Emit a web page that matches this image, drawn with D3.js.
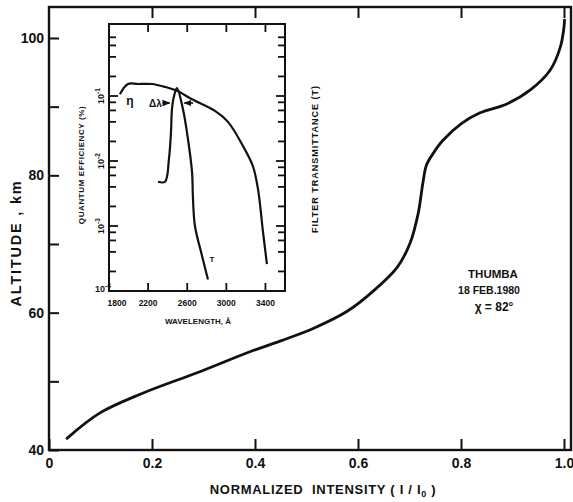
<!DOCTYPE html>
<html>
<head>
<meta charset="utf-8">
<script src="https://cdn.jsdelivr.net/npm/d3@7"></script>
<style>
  body { margin: 0; background: #fff; }
  text { font-family: "Liberation Sans", Arial, sans-serif; font-weight: bold; fill: #111; }
</style>
</head>
<body>
<svg id="chart" width="573" height="502"></svg>
<script>
// main profile: normalized intensity vs altitude (km)
var intensity = [0.035, 0.099, 0.183, 0.293, 0.390, 0.450, 0.513, 0.579, 0.629, 0.676, 0.701, 0.717, 0.726, 0.733, 0.746, 0.765, 0.800, 0.837, 0.889, 0.934, 0.973, 0.993, 1.000, 1.001];
var altitude  = [41.7, 45.4, 48.3, 51.4, 54.3, 55.9, 57.7, 60.2, 63.1, 66.6, 70.1, 74.5, 78.9, 81.5, 83.2, 85.1, 87.5, 89.1, 90.4, 92.4, 95.3, 98.7, 101.6, 102.6];
var xTicks = [0, 0.2, 0.4, 0.6, 0.8, 1.0];
var xTickLabels = ["0", "0.2", "0.4", "0.6", "0.8", "1.0"];
var yTicks = [40, 50, 60, 70, 80, 90, 100];
var yTickLabels = ["40", "", "60", "", "80", "", "100"];

// inset: quantum efficiency (eta) and filter transmittance (T) vs wavelength
var etaWave  = [1912, 1994, 2097, 2240, 2373, 2495, 2649, 2884, 3017, 3190, 3272, 3324, 3375, 3415];
var etaValue = [0.107, 0.153, 0.153, 0.153, 0.138, 0.120, 0.089, 0.059, 0.040, 0.015, 0.0083, 0.0037, 0.00081, 0.00026];
var tWave  = [2301, 2373, 2413, 2434, 2444, 2465, 2495, 2556, 2607, 2649, 2659, 2679, 2751, 2812];
var tValue = [0.0048, 0.0048, 0.0107, 0.028, 0.063, 0.10, 0.132, 0.063, 0.022, 0.0068, 0.0026, 0.0010, 0.00035, 0.00015];
var waveTicks = [1800, 2200, 2600, 3000, 3400];
var decades = [1e-4, 1e-3, 1e-2, 1e-1, 1];
var decadeExp = ["-4", "-3", "-2", "-1"];
var minorMult = [2, 4, 6, 8];

var svg = d3.select("#chart");

// ---- main plot
var x = d3.scaleLinear().domain([0, 1]).range([49, 564]);
var y = d3.scaleLinear().domain([40, 100]).range([450, 38]);
var L = 49, R = 571, T = 7, B = 450;

var g = svg.append("g");
g.append("rect").attr("x", L).attr("y", T).attr("width", R - L).attr("height", B - T)
  .attr("fill", "none").attr("stroke", "#111").attr("stroke-width", 2.4);

var axB = g.append("g").attr("transform", "translate(0," + B + ")")
  .call(d3.axisBottom(x).tickValues(xTicks).tickSize(-11).tickPadding(8)
    .tickFormat(function(d, i) { return xTickLabels[i]; }));
var axT = g.append("g").attr("transform", "translate(0," + T + ")")
  .call(d3.axisTop(x).tickValues(xTicks.slice(1)).tickSize(-11).tickFormat(""));
var axL = g.append("g").attr("transform", "translate(" + L + ",0)")
  .call(d3.axisLeft(y).tickValues(yTicks).tickSize(-10).tickPadding(5)
    .tickFormat(function(d, i) { return yTickLabels[i]; }));
[axB, axT, axL].forEach(function(a) {
  a.select(".domain").remove();
  a.selectAll("line").attr("stroke", "#111").attr("stroke-width", 2);
  a.attr("font-size", 14).attr("font-family", null);
  a.selectAll("text").attr("fill", "#111");
});

var mainLine = d3.line()
  .x(function(d, i) { return x(intensity[i]); })
  .y(function(d, i) { return y(altitude[i]); })
  .curve(d3.curveCatmullRom.alpha(0.5));
g.append("path").attr("d", mainLine(altitude)).attr("fill", "none")
  .attr("stroke", "#111").attr("stroke-width", 2.8).attr("stroke-linecap", "round");

g.append("text").attr("x", 323).attr("y", 494).attr("text-anchor", "middle")
  .attr("font-size", 13).attr("letter-spacing", 0.7)
  .html("NORMALIZED&#160; INTENSITY ( I / I<tspan font-size='9' dy='3'>0</tspan><tspan dy='-3'> )</tspan>");
g.append("text").attr("transform", "translate(21,243) rotate(-90)").attr("text-anchor", "middle")
  .attr("font-size", 14.5).attr("letter-spacing", 1.8).text("ALTITUDE , km");

g.append("text").attr("x", 493).attr("y", 278).attr("text-anchor", "middle").attr("font-size", 11.5).text("THUMBA");
g.append("text").attr("x", 489).attr("y", 294).attr("text-anchor", "middle").attr("font-size", 10.5).attr("font-weight", "normal").text("18 FEB.1980");
g.append("text").attr("x", 494).attr("y", 311).attr("text-anchor", "middle").attr("font-size", 12).text("χ = 82°");

// ---- inset
var ix = d3.scaleLinear().domain([1800, 3600]).range([109, 285]);
var iy = d3.scaleLog().domain([1e-4, 1]).range([291, 31]);
var iL = 109, iR = 285, iT = 24, iB = 291;

var ins = svg.append("g");
ins.append("rect").attr("x", iL).attr("y", iT).attr("width", iR - iL).attr("height", iB - iT)
  .attr("fill", "#fff").attr("stroke", "#111").attr("stroke-width", 2);

// log tick marks on both vertical sides (major decades longer)
var logTicks = [];
decades.slice(0, 4).forEach(function(d, k) {
  if (k > 0) logTicks.push({ v: d, len: 9 });
  minorMult.forEach(function(m) { logTicks.push({ v: d * m, len: 7 }); });
});
ins.selectAll("rect.tl").data(logTicks).enter().append("rect").attr("class", "tl")
  .attr("x", iL).attr("width", function(d) { return d.len; })
  .attr("y", function(d) { return iy(d.v) - 0.9; }).attr("height", 1.8).attr("fill", "#111");
ins.selectAll("rect.tr").data(logTicks).enter().append("rect").attr("class", "tr")
  .attr("x", function(d) { return iR - d.len; }).attr("width", function(d) { return d.len; })
  .attr("y", function(d) { return iy(d.v) - 0.9; }).attr("height", 1.8).attr("fill", "#111");
ins.selectAll("rect.tb").data(waveTicks.slice(1)).enter().append("rect").attr("class", "tb")
  .attr("x", function(d) { return ix(d) - 0.9; }).attr("width", 1.8)
  .attr("y", iB - 8).attr("height", 8).attr("fill", "#111");
ins.selectAll("rect.tt").data(waveTicks.slice(1)).enter().append("rect").attr("class", "tt")
  .attr("x", function(d) { return ix(d) - 0.9; }).attr("width", 1.8)
  .attr("y", iT).attr("height", 8).attr("fill", "#111");

// wavelength tick labels
ins.selectAll(".wl").data(waveTicks).enter().append("text")
  .attr("x", function(d, i) { return ix(d) + (i === 0 ? 8 : 0); }).attr("y", 306)
  .attr("text-anchor", "middle").attr("font-size", 8.5).text(function(d) { return d; });

// decade labels (rotated like the original lettering), bottom one horizontal
decadeExp.forEach(function(e, i) {
  var v = decades[i];
  if (i === 0) {
    ins.append("text").attr("x", 95).attr("y", iy(v) + 1).attr("font-size", 9)
      .html("10<tspan font-size='6.5' dy='-4'>" + e + "</tspan>");
  } else {
    ins.append("text").attr("transform", "translate(104," + iy(v) + ") rotate(-90)")
      .attr("text-anchor", "middle").attr("font-size", 9)
      .html("10<tspan font-size='6.5' dy='-4'>" + e + "</tspan>");
  }
});

var curveLine = function(xs, vs) {
  return d3.line()
    .x(function(d, i) { return ix(xs[i]); })
    .y(function(d, i) { return iy(vs[i]); })
    .curve(d3.curveCatmullRom.alpha(0.5))(vs);
};
ins.append("path").attr("d", curveLine(etaWave, etaValue)).attr("fill", "none")
  .attr("stroke", "#111").attr("stroke-width", 2.2);
ins.append("path").attr("d", curveLine(tWave, tValue)).attr("fill", "none")
  .attr("stroke", "#111").attr("stroke-width", 2.2);

// delta-lambda arrows
var arrowY = iy(0.078);
svg.append("defs").append("marker").attr("id", "ah").attr("viewBox", "0 0 10 10")
  .attr("refX", 9).attr("refY", 5).attr("markerWidth", 5).attr("markerHeight", 5).attr("orient", "auto")
  .append("path").attr("d", "M0,1 L10,5 L0,9 Z").attr("fill", "#111");
ins.append("line").attr("x1", ix(2350)).attr("x2", ix(2420)).attr("y1", arrowY).attr("y2", arrowY)
  .attr("stroke", "#111").attr("stroke-width", 1.6).attr("marker-end", "url(#ah)");
ins.append("line").attr("x1", ix(2660)).attr("x2", ix(2570)).attr("y1", arrowY).attr("y2", arrowY)
  .attr("stroke", "#111").attr("stroke-width", 1.6).attr("marker-end", "url(#ah)");
ins.append("text").attr("x", ix(2340)).attr("y", arrowY + 3.5).attr("text-anchor", "end")
  .attr("font-size", 10).text("Δλ");
ins.append("text").attr("x", 130).attr("y", iy(0.078) + 2).attr("text-anchor", "middle")
  .attr("font-size", 12).attr("font-weight", "normal").text("η");
ins.append("text").attr("x", 212).attr("y", iy(0.00028)).attr("text-anchor", "middle")
  .attr("font-size", 8).text("T");

ins.append("text").attr("transform", "translate(84,165) rotate(-90)").attr("text-anchor", "middle")
  .attr("font-size", 8).attr("letter-spacing", 0.6).text("QUANTUM EFFICIENCY (%)");
ins.append("text").attr("transform", "translate(318,159) rotate(-90)").attr("text-anchor", "middle")
  .attr("font-size", 9).attr("letter-spacing", 1).text("FILTER TRANSMITTANCE (T)");
ins.append("text").attr("x", 198).attr("y", 324).attr("text-anchor", "middle")
  .attr("font-size", 8).text("WAVELENGTH, Å");
</script>
</body>
</html>
